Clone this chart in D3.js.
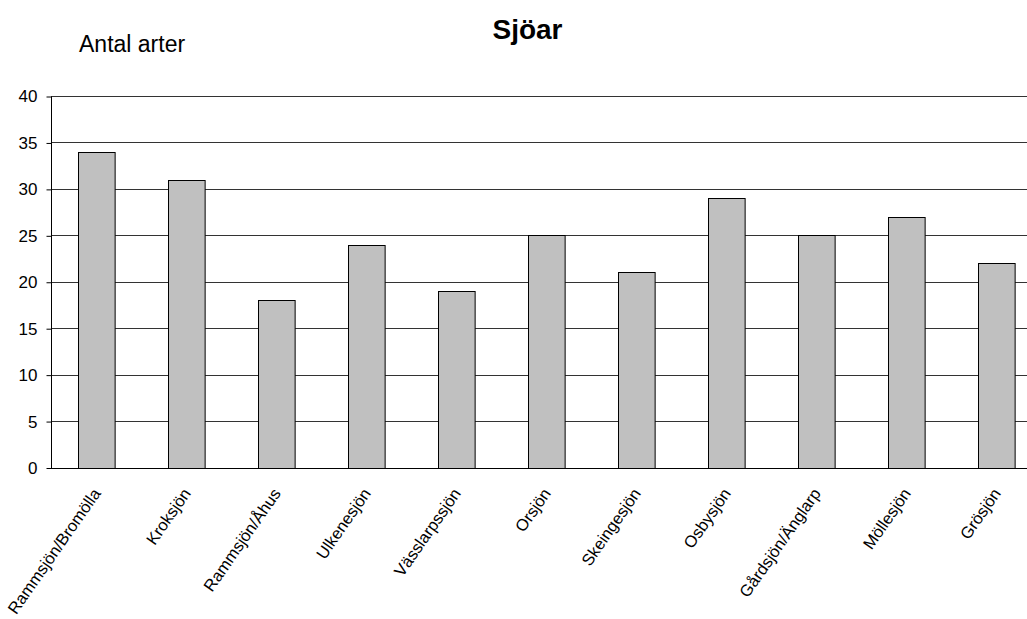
<!DOCTYPE html>
<html>
<head>
<meta charset="utf-8">
<script src="https://cdn.jsdelivr.net/npm/d3@7"></script>
<style>
  html, body { margin: 0; padding: 0; background: #fff; }
  svg { display: block; font-family: "Liberation Sans", Arial, sans-serif; }
</style>
</head>
<body>
<svg id="chart" width="1027" height="619"></svg>
<script>
// Number of species per lake
const lakes = ["Rammsjön/Bromölla", "Kroksjön", "Rammsjön/Åhus", "Ulkenesjön", "Vässlarpssjön",
  "Orsjön", "Skeingesjön", "Osbysjön", "Gårdsjön/Änglarp", "Möllesjön", "Grösjön"];
const speciesCount = [34, 31, 18, 24, 19, 25, 21, 29, 25, 27, 22];
const yTicks = [0, 5, 10, 15, 20, 25, 30, 35, 40];

const svg = d3.select("#chart");
const plot = { left: 51, right: 1041, top: 96, bottom: 467.5 };

const x = d3.scaleBand().domain(lakes).range([plot.left, plot.right]).paddingInner(0.593).paddingOuter(0.296);
const y = d3.scaleLinear().domain([0, 40]).range([plot.bottom, plot.top]);

// Horizontal gridlines
svg.append("g").selectAll("line").data(yTicks.filter(d => d > 0)).join("line")
  .attr("x1", plot.left).attr("x2", plot.right)
  .attr("y1", d => Math.round(y(d)) + 0.5).attr("y2", d => Math.round(y(d)) + 0.5)
  .attr("stroke", "#333").attr("stroke-width", 1);

// Bars
svg.append("g").selectAll("rect").data(speciesCount).join("rect")
  .attr("x", (d, i) => Math.round(x(lakes[i])) + 0.5)
  .attr("y", d => Math.round(y(d)) + 0.5)
  .attr("width", x.bandwidth())
  .attr("height", d => Math.round(y(0)) - Math.round(y(d)))
  .attr("fill", "#c0c0c0").attr("stroke", "#000").attr("stroke-width", 1);

// Y axis
const yAxis = d3.axisLeft(y).tickValues(yTicks).tickSize(5).tickPadding(9);
const gy = svg.append("g").attr("transform", `translate(${plot.left + 0.5},0.5)`).call(yAxis);
gy.select(".domain").attr("stroke", "#000").attr("d", `M0,${Math.round(plot.top)}V${Math.round(plot.bottom)}`);
gy.selectAll(".tick line").attr("stroke", "#000");
gy.selectAll(".tick text").attr("font-size", 17).attr("fill", "#000")
  .attr("font-family", "Liberation Sans, Arial, sans-serif");

// X axis baseline
svg.append("line")
  .attr("x1", plot.left).attr("x2", plot.right)
  .attr("y1", Math.round(y(0)) + 0.5).attr("y2", Math.round(y(0)) + 0.5)
  .attr("stroke", "#000");

// Rotated category labels
svg.append("g").selectAll("text").data(lakes).join("text")
  .attr("transform", d => `translate(${x(d) + x.bandwidth() / 2 + 5.5},${plot.bottom + 26}) rotate(-55)`)
  .attr("text-anchor", "end")
  .attr("font-size", 16.5)
  .attr("fill", "#000")
  .text(d => d);

// Title and axis caption
svg.append("text").attr("x", 527.5).attr("y", 39).attr("text-anchor", "middle")
  .attr("font-size", 28).attr("font-weight", "bold").text("Sjöar");
svg.append("text").attr("x", 79).attr("y", 52).attr("font-size", 23).text("Antal arter");
</script>
</body>
</html>
